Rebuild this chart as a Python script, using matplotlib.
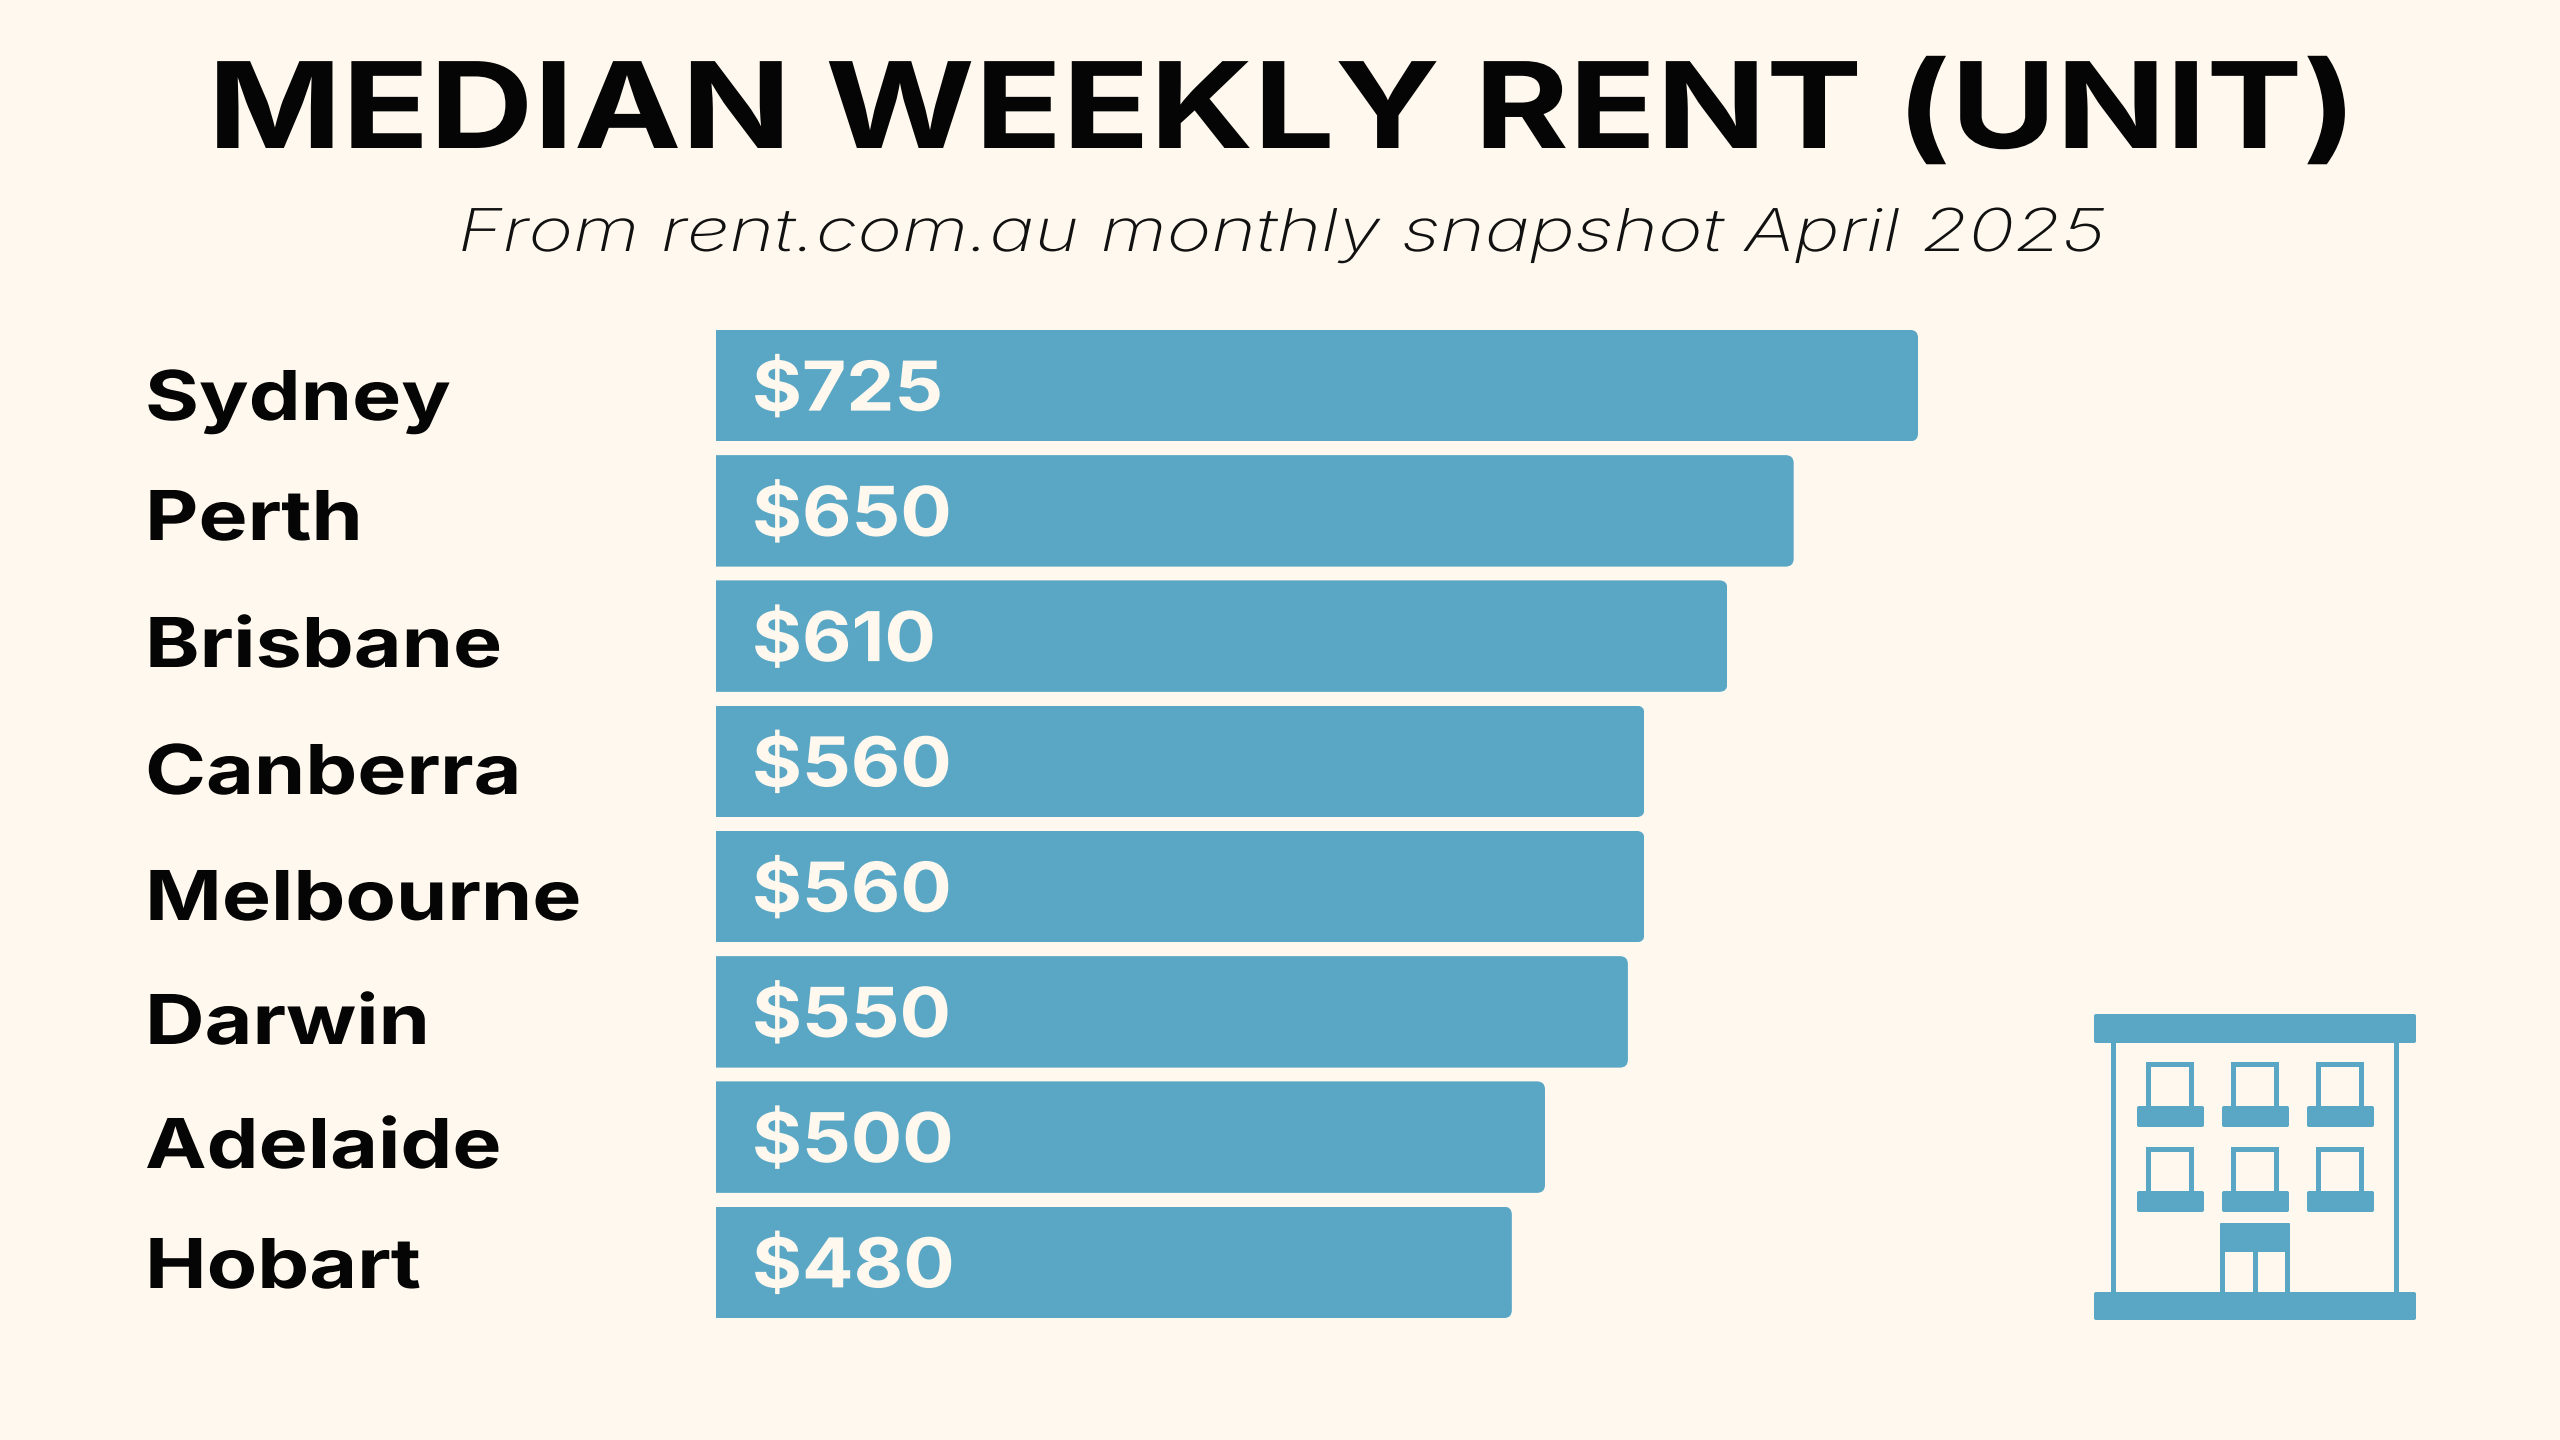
import matplotlib
matplotlib.use('Agg')
import matplotlib.pyplot as plt
import matplotlib.patheffects as pe
from matplotlib.patches import FancyBboxPatch
from matplotlib.transforms import Affine2D, IdentityTransform

cities = ['Sydney', 'Perth', 'Brisbane', 'Canberra', 'Melbourne', 'Darwin', 'Adelaide', 'Hobart']
rents = [725, 650, 610, 560, 560, 550, 500, 480]
value_labels = ['$725', '$650', '$610', '$560', '$560', '$550', '$500', '$480']
title = 'MEDIAN WEEKLY RENT (UNIT)'
subtitle = 'From rent.com.au monthly snapshot April 2025'

BG = '#FFF8EE'
BLUE = '#5AA7C5'
INK = '#050505'
W, H = 2560, 1440

# baselines of the city names, they do not sit quite centred on the bars
label_baselines = [420, 540, 667, 794, 920, 1044, 1168, 1288]


class Stretch(pe.AbstractPathEffect):
    # Inter is narrower than the font of the original, widen the glyphs about x_anchor
    def __init__(self, factor, x_anchor):
        super().__init__()
        self.factor = factor
        self.x_anchor = x_anchor

    def draw_path(self, renderer, gc, tpath, affine, rgbFace=None):
        widen = Affine2D().translate(-self.x_anchor, 0).scale(self.factor, 1).translate(self.x_anchor, 0)
        renderer.draw_path(gc, tpath, affine + widen, rgbFace)


fig = plt.figure(figsize=(W / 100, H / 100), dpi=100, facecolor=BG)
plt.rcParams['font.family'] = ['Inter', 'DejaVu Sans']

# overlay in pixels for the text and the icon
page = fig.add_axes([0, 0, 1, 1])
page.set_xlim(0, W)
page.set_ylim(H, 0)
page.axis('off')

# bars
left, right, top, bottom = 716, 2560, 323, 1325
ax = fig.add_axes([left / W, 1 - bottom / H, (right - left) / W, (bottom - top) / H])
ax.set_xlim(0, (right - left) / 1.658)
ax.set_ylim(len(cities) - 0.5, -0.5)
ax.axis('off')
ax.patch.set_alpha(0)
bars = ax.barh(range(len(cities)), rents, height=0.89, color=BLUE, linewidth=0)

# round the right hand corners only, the clip runs past the left edge
for bar in bars:
    (x0, y0), (x1, y1) = ax.transData.transform([(0, bar.get_y()), (bar.get_width(), bar.get_y() + bar.get_height())])
    ya, yb = min(y0, y1), max(y0, y1)
    clip = FancyBboxPatch((x0 - 40, ya), x1 - x0 + 40, yb - ya, boxstyle='round,pad=0,rounding_size=8',
                          transform=IdentityTransform())
    bar.set_clip_path(clip)

for i, label in enumerate(value_labels):
    ax.annotate(label, (0, i), xytext=(36, -25), textcoords='offset pixels', color=BG, fontsize=49.5,
                fontweight='bold', va='baseline', ha='left',
                path_effects=[Stretch(1.11, left + 36)])

page.text(1282, 148, title, ha='center', va='baseline', fontsize=86, fontweight='bold', color=INK,
          path_effects=[Stretch(1.206, 1282)])
page.text(1282, 251, subtitle, ha='center', va='baseline', fontsize=42.5, fontstyle='italic', fontweight='light',
          color='#111111', path_effects=[Stretch(1.29, 1282)])

for city, base in zip(cities, label_baselines):
    page.text(145, base, city, ha='left', va='baseline', fontsize=49.5, fontweight='bold', color=INK,
              path_effects=[Stretch(1.2, 145)])


# building icon
def block(x0, y0, x1, y1, corner=0):
    page.add_patch(FancyBboxPatch((x0, y0), x1 - x0, y1 - y0, boxstyle=f'round,pad=0,rounding_size={corner}',
                                  facecolor=BLUE, edgecolor='none'))


block(2094, 1014, 2416, 1043, 2)
block(2094, 1292, 2416, 1320, 2)
block(2111, 1043, 2116, 1292)
block(2394, 1043, 2399, 1292)
for row in range(2):
    for col in range(3):
        dx, dy = col * 85, row * 85
        block(2146 + dx, 1062 + dy, 2194 + dx, 1067 + dy, 1)
        block(2146 + dx, 1062 + dy, 2151 + dx, 1107 + dy)
        block(2189 + dx, 1062 + dy, 2194 + dx, 1107 + dy)
        block(2137 + dx, 1106 + dy, 2204 + dx, 1127 + dy, 2)
block(2220, 1223, 2290, 1252, 1)
block(2220, 1250, 2225, 1292)
block(2253, 1250, 2258, 1292)
block(2285, 1250, 2290, 1292)

fig.savefig('out.png', dpi=100, facecolor=BG)
